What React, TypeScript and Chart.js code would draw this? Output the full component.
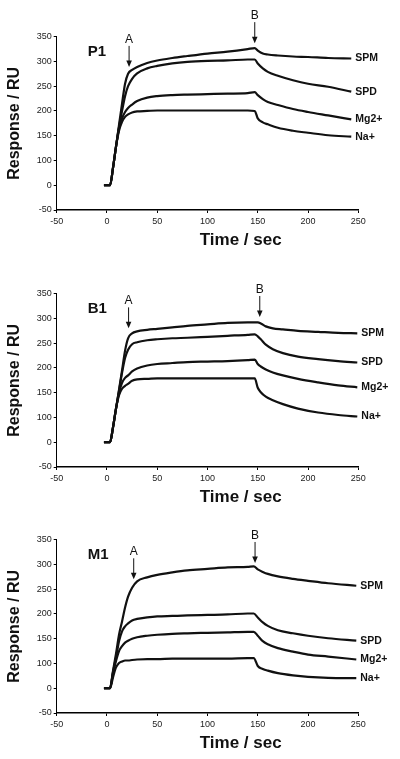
import React, { useEffect, useRef } from 'react';
import { Chart, registerables, LinearScale } from 'chart.js';

Chart.register(...registerables);

// ---------- data (RU as printed on the axis) ----------
const SERIES = ['SPM', 'SPD', 'Mg2+', 'Na+'];
const X_TICKS = [-50, 0, 50, 100, 150, 200, 250];
// the printed y axis has 8 evenly spaced labels (no "50" label)
const Y_TICKS = [-50, 0, 100, 150, 200, 250, 300, 350];

const P1_TIME = [-3, 0, 3, 6, 9, 12, 15, 18, 21, 25, 30, 40, 50, 65, 80, 100, 120, 140, 147, 150, 155, 160, 170, 185, 200, 220, 243];
const P1_SPM = [0, 0, 0, 70, 128, 172, 215, 255, 275, 283, 289, 297, 302, 307, 311, 316, 320, 325, 327, 322, 316, 314, 312, 310, 309, 307, 306];
const P1_SPD = [0, 0, 0, 70, 128, 168, 200, 230, 250, 265, 276, 286, 291, 296, 299, 301, 302, 304, 304, 296, 286, 279, 271, 262, 255, 249, 239];
const P1_MG = [0, 0, 0, 70, 128, 165, 185, 198, 206, 213, 220, 227, 230, 232, 233, 234, 235, 236, 238, 232, 224, 218, 212, 204, 198, 191, 183];
const P1_NA = [0, 0, 0, 70, 128, 160, 178, 188, 193, 197, 199, 200, 201, 201, 201, 201, 201, 201, 200, 185, 177, 173, 166, 160, 156, 151, 148];

const P2_TIME = [-3, 0, 3, 6, 9, 12, 15, 18, 21, 25, 30, 40, 50, 65, 80, 100, 120, 140, 147, 150, 153, 158, 165, 175, 190, 210, 230, 249];
const P2_SPM = [0, 0, 0, 60, 118, 156, 195, 235, 260, 270, 274, 277, 279, 282, 285, 288, 291, 292, 292, 292, 290, 284, 280, 278, 275, 273, 271, 270];
const P2_SPD = [0, 0, 0, 60, 118, 154, 190, 220, 237, 248, 252, 256, 258, 260, 261, 263, 265, 267, 268, 264, 258, 247, 238, 230, 223, 218, 214, 211];
const P2_MG = [0, 0, 0, 60, 118, 150, 170, 180, 185, 193, 199, 205, 208, 210, 212, 213, 214, 216, 217, 208, 203, 197, 191, 185, 178, 171, 165, 161];
const P2_NA = [0, 0, 0, 60, 118, 145, 158, 164, 168, 174, 177, 178, 179, 179, 179, 179, 179, 179, 179, 160, 151, 142, 135, 127, 118, 110, 105, 102];

const P3_TIME = [-3, 0, 3, 6, 9, 12, 15, 18, 21, 25, 30, 40, 50, 65, 80, 100, 120, 140, 146, 150, 155, 160, 170, 185, 200, 220, 248];
const P3_SPM = [0, 0, 0, 70, 120, 158, 185, 213, 235, 253, 266, 274, 279, 284, 288, 291, 294, 295, 296, 290, 285, 281, 276, 271, 267, 262, 257];
const P3_SPD = [0, 0, 0, 66, 112, 145, 165, 175, 181, 187, 190, 193, 195, 196, 197, 198, 199, 201, 201, 193, 183, 176, 167, 161, 156, 151, 146];
const P3_MG = [0, 0, 0, 60, 105, 125, 135, 142, 146, 150, 153, 156, 158, 160, 161, 162, 163, 164, 164, 156, 145, 139, 131, 124, 118, 114, 108];
const P3_NA = [0, 0, 0, 44, 84, 101, 104, 106, 106, 107, 108, 109, 109, 110, 110, 110, 110, 111, 111, 90, 78, 71, 61, 52, 46, 42, 41];

// ---------- panel config ----------
type Arrow = { label: string; t: number; tip: number };
type PanelCfg = { name: string; top: number; time: number[]; values: number[][]; arrows: Arrow[] };

const PANELS: PanelCfg[] = [
  { name: 'P1', top: 0, time: P1_TIME, values: [P1_SPM, P1_SPD, P1_MG, P1_NA],
    arrows: [{ label: 'A', t: 22, tip: 289 }, { label: 'B', t: 147, tip: 337 }] },
  { name: 'B1', top: 256.6, time: P2_TIME, values: [P2_SPM, P2_SPD, P2_MG, P2_NA],
    arrows: [{ label: 'A', t: 21.5, tip: 280 }, { label: 'B', t: 152, tip: 303 }] },
  { name: 'M1', top: 503.3, time: P3_TIME, values: [P3_SPM, P3_SPD, P3_MG, P3_NA],
    arrows: [{ label: 'A', t: 26.6, tip: 270 }, { label: 'B', t: 147.3, tip: 303 }] },
];

const FONT = '"Liberation Sans", Arial, Helvetica, sans-serif';
const INK = '#111111';

// The printed axis places labels -50,0,100,150,...,350 at equal spacing.
const toSlot = (v: number) => (v <= 0 ? v : v < 100 ? v / 2 : v - 50);
const fromSlot = (s: number) => (s <= 0 ? s : s < 50 ? s * 2 : s + 50);

class PrintedAxisScale extends LinearScale {
  static id = 'printedAxis';
  buildTicks() {
    return Y_TICKS.map((value) => ({ value }));
  }
  getPixelForValue(value: number) {
    return super.getPixelForValue(toSlot(value));
  }
  getValueForPixel(pixel: number) {
    return fromSlot(super.getValueForPixel(pixel) as number);
  }
}
Chart.register(PrintedAxisScale as any);

function makeOverlay(panel: PanelCfg) {
  return {
    id: 'overlay',
    afterDraw(chart: any) {
      const { ctx, chartArea: area, scales } = chart;
      const xs = scales.x;
      const ys = scales.y;
      ctx.save();
      ctx.fillStyle = INK;
      ctx.strokeStyle = INK;

      // panel name
      ctx.font = `bold 15px ${FONT}`;
      ctx.textAlign = 'left';
      ctx.textBaseline = 'middle';
      ctx.fillText(panel.name, area.left + 31, area.top + 15);

      // x axis title
      ctx.font = `bold 17px ${FONT}`;
      ctx.textAlign = 'center';
      ctx.fillText('Time / sec', area.left + (area.right - area.left) * 0.61, area.bottom + 30.5);

      // arrows A / B
      ctx.lineWidth = 1;
      for (const a of panel.arrows) {
        const x = xs.getPixelForValue(a.t);
        const tip = ys.getPixelForValue(a.tip);
        const top = tip - 21;
        ctx.beginPath();
        ctx.moveTo(x, top);
        ctx.lineTo(x, tip - 5);
        ctx.stroke();
        ctx.beginPath();
        ctx.moveTo(x - 2.8, tip - 6.5);
        ctx.lineTo(x + 2.8, tip - 6.5);
        ctx.lineTo(x, tip);
        ctx.closePath();
        ctx.fill();
        ctx.font = `12px ${FONT}`;
        ctx.textAlign = 'center';
        ctx.textBaseline = 'middle';
        ctx.fillText(a.label, x, top - 6.5);
      }

      // series end labels
      ctx.font = `bold 10.5px ${FONT}`;
      ctx.textAlign = 'left';
      ctx.textBaseline = 'middle';
      chart.data.datasets.forEach((ds: any, i: number) => {
        const meta = chart.getDatasetMeta(i);
        const pt = meta.data[meta.data.length - 1];
        ctx.fillText(ds.label, pt.x + 4, pt.y);
      });
      ctx.restore();
    },
  };
}

function Panel({ panel }: { panel: PanelCfg }) {
  const ref = useRef<HTMLCanvasElement>(null);
  useEffect(() => {
    const chart = new Chart(ref.current as HTMLCanvasElement, {
      type: 'line',
      data: {
        datasets: SERIES.map((name, i) => ({
          label: name,
          data: panel.time.map((t, k) => ({ x: t, y: panel.values[i][k] })),
          borderColor: INK,
          borderWidth: 2.2,
          pointRadius: 0,
          fill: false,
          cubicInterpolationMode: 'monotone' as const,
        })),
      },
      options: {
        animation: false,
        responsive: false,
        devicePixelRatio: 1,
        layout: { padding: { top: 36.7, right: 41.7, left: 0, bottom: 0 } },
        plugins: { legend: { display: false }, tooltip: { enabled: false }, title: { display: false } },
        scales: {
          x: {
            type: 'linear',
            min: -50,
            max: 250,
            afterBuildTicks: (s: any) => {
              s.ticks = X_TICKS.map((value) => ({ value }));
            },
            afterFit: (s: any) => {
              s.height = 40;
            },
            border: { display: true, color: '#000', width: 1.5 },
            grid: { display: true, drawOnChartArea: false, drawTicks: true, tickLength: 3, color: '#000' },
            ticks: {
              autoSkip: false,
              maxRotation: 0,
              padding: 3,
              color: '#222',
              font: { family: FONT, size: 9 },
              callback: (v: any) => String(v),
            },
          },
          y: {
            type: 'printedAxis' as any,
            min: -50,
            max: 300,
            afterFit: (s: any) => {
              s.width = 56.7;
            },
            border: { display: true, color: '#000', width: 1 },
            grid: { display: true, drawOnChartArea: false, drawTicks: true, tickLength: 3, color: '#000' },
            ticks: {
              autoSkip: false,
              padding: 2,
              color: '#222',
              font: { family: FONT, size: 9 },
              callback: (v: any) => String(v),
            },
            title: {
              display: true,
              text: 'Response / RU',
              color: INK,
              font: { family: FONT, size: 16, weight: 'bold' },
              padding: { top: 5, bottom: 0 },
            },
          },
        },
      } as any,
      plugins: [makeOverlay(panel)],
    });
    return () => chart.destroy();
  }, [panel]);
  return (
    <div style={{ position: 'absolute', left: 0, top: panel.top, width: 400, height: 250 }}>
      <canvas ref={ref} width={400} height={250} style={{ display: 'block', width: 400, height: 250 }} />
    </div>
  );
}

export default function App() {
  return (
    <div style={{ position: 'absolute', left: 0, top: 0, width: 400, height: 759, background: '#fff', overflow: 'hidden' }}>
      {PANELS.map((p) => (
        <Panel key={p.name} panel={p} />
      ))}
    </div>
  );
}
